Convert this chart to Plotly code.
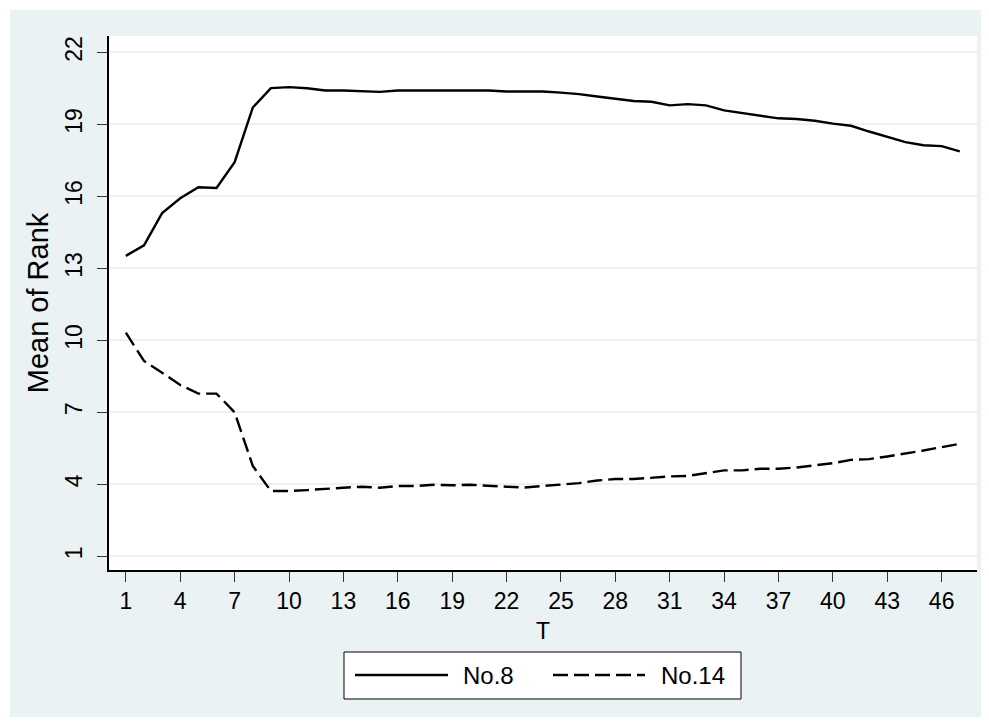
import plotly.graph_objects as go

T = list(range(1, 48))
no8 = [13.52, 13.96, 15.30, 15.92, 16.38, 16.35, 17.42, 19.70, 20.51, 20.55,
       20.50, 20.41, 20.41, 20.37, 20.35, 20.41, 20.41, 20.41, 20.43, 20.43,
       20.41, 20.37, 20.37, 20.37, 20.32, 20.26, 20.16, 20.08, 19.97, 19.94,
       19.79, 19.84, 19.79, 19.58, 19.48, 19.36, 19.25, 19.22, 19.15, 19.03,
       18.94, 18.70, 18.47, 18.26, 18.13, 18.09, 17.87]
no14 = [10.32, 9.14, 8.65, 8.14, 7.78, 7.78, 7.00, 4.77, 3.72, 3.72,
        3.76, 3.82, 3.86, 3.90, 3.86, 3.93, 3.93, 3.98, 3.96, 3.98,
        3.93, 3.90, 3.87, 3.92, 3.98, 4.05, 4.16, 4.22, 4.22, 4.29,
        4.33, 4.35, 4.48, 4.58, 4.58, 4.65, 4.65, 4.70, 4.79, 4.88,
        5.02, 5.05, 5.16, 5.27, 5.41, 5.55, 5.69]
x_ticks = list(range(1, 47, 3))
y_ticks = list(range(1, 23, 3))
series_names = ["No.8", "No.14"]

BG = "#EAF2F3"
FONT = "Liberation Sans, Arial, sans-serif"
FS = 23

fig = go.Figure()
fig.add_trace(go.Scatter(x=T, y=no8, mode="lines", name=series_names[0],
                         line=dict(color="black", width=2.4), showlegend=False))
fig.add_trace(go.Scatter(x=T, y=no14, mode="lines", name=series_names[1],
                         line=dict(color="black", width=2.4, dash="15px,6px"),
                         showlegend=False))

# page coordinates -> paper coordinates (plot area 109..977 x 36..570 on the page)
def px(x):
    return (x - 109) / 868.0

def py(y):
    return (570 - y) / 534.0

shapes = [
    dict(type="rect", xref="paper", yref="paper", x0=px(10), x1=px(1000),
         y0=py(717), y1=py(10), fillcolor=BG, line=dict(width=0), layer="below"),
    dict(type="rect", xref="paper", yref="paper", x0=0, x1=1, y0=0, y1=1,
         fillcolor="white", line=dict(width=0), layer="below"),
    # legend box
    dict(type="rect", xref="paper", yref="paper", x0=px(344), x1=px(741),
         y0=py(699), y1=py(652), fillcolor="white",
         line=dict(color="black", width=1)),
    dict(type="line", xref="paper", yref="paper", x0=px(355), x1=px(448),
         y0=py(675), y1=py(675), line=dict(color="black", width=2.4)),
    dict(type="line", xref="paper", yref="paper", x0=px(553), x1=px(645),
         y0=py(675), y1=py(675),
         line=dict(color="black", width=2.4, dash="15px,6px")),
]
annotations = [
    dict(xref="paper", yref="paper", x=px(461), y=py(675), text=series_names[0],
         showarrow=False, xanchor="left", yanchor="middle",
         font=dict(family=FONT, size=FS + 1, color="black")),
    dict(xref="paper", yref="paper", x=px(659), y=py(675), text=series_names[1],
         showarrow=False, xanchor="left", yanchor="middle",
         font=dict(family=FONT, size=FS + 1, color="black")),
]

fig.update_layout(
    width=989, height=725,
    margin=dict(l=101, r=20, t=28, b=163),
    paper_bgcolor="white", plot_bgcolor="white",
    font=dict(family=FONT, size=FS, color="black"),
    shapes=shapes, annotations=annotations,
    showlegend=False,
)
fig.update_xaxes(
    range=[0.07, 47.95], tickvals=x_ticks, ticktext=[str(v) for v in x_ticks],
    showgrid=False, zeroline=False, showline=True, linecolor="black", linewidth=1.5,
    ticks="outside", ticklen=10, tickcolor="#333", tickwidth=1,
    tickfont=dict(family=FONT, size=FS), automargin=False,
    title=dict(text="T", font=dict(family=FONT, size=FS), standoff=10),
)
fig.update_yaxes(
    range=[0.43, 22.68], tickvals=y_ticks, ticktext=[str(v) for v in y_ticks],
    showgrid=True, gridcolor=BG, gridwidth=2, zeroline=False,
    showline=True, linecolor="black", linewidth=1.5,
    ticks="outside", ticklen=10, tickcolor="#333", tickwidth=1,
    tickangle=-90, tickfont=dict(family=FONT, size=FS), automargin=False,
    ticklabelstandoff=6,
    title=dict(text="Mean of Rank", font=dict(family=FONT, size=29), standoff=4),
)

fig.write_html("out.html")
